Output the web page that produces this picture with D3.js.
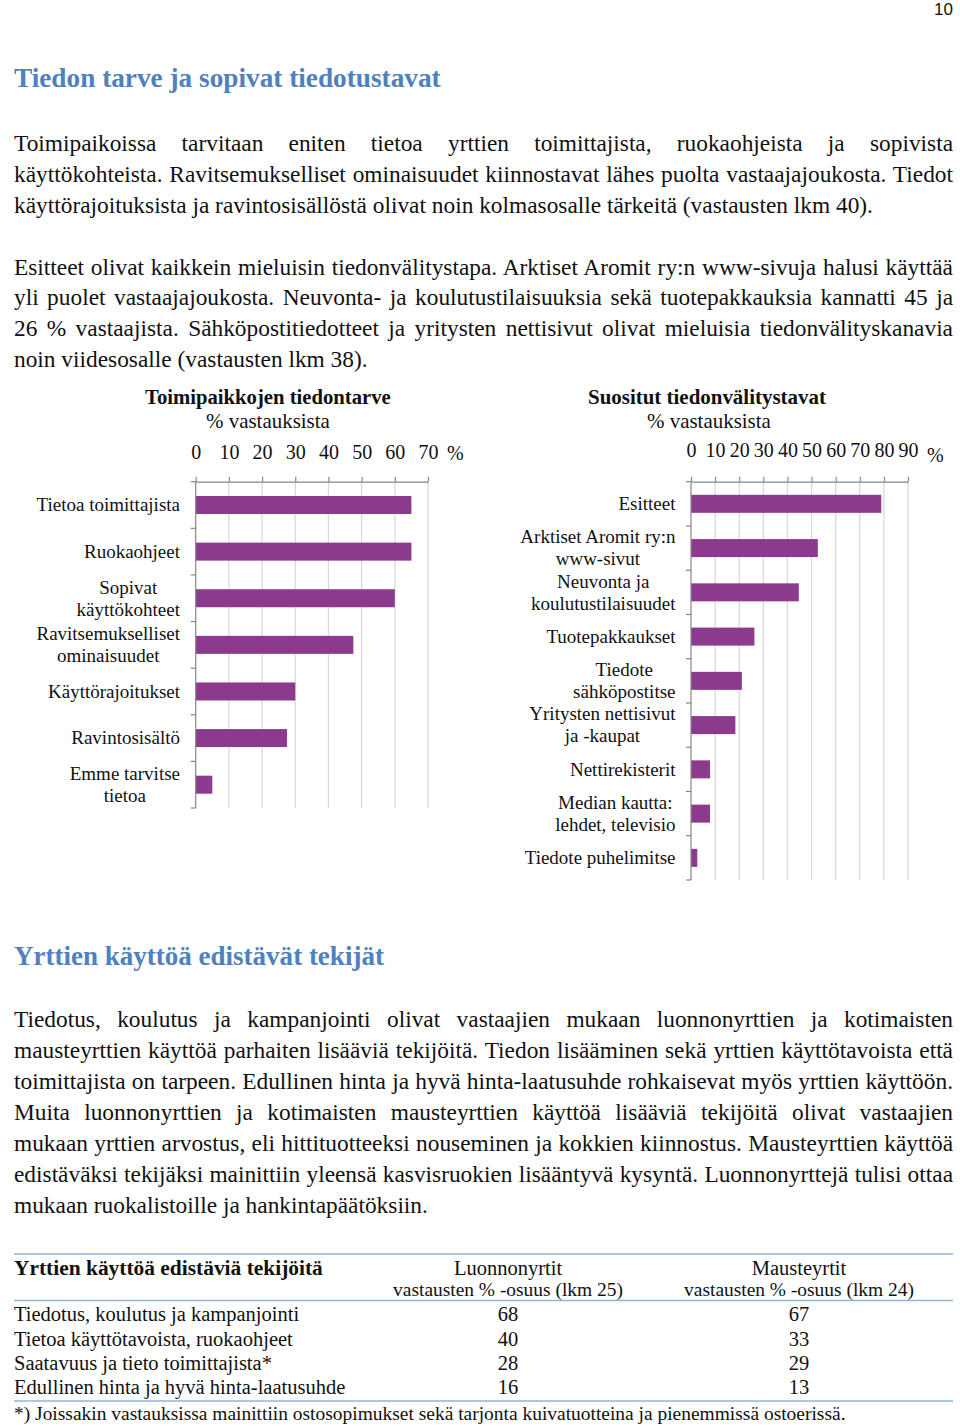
<!DOCTYPE html>
<html><head><meta charset="utf-8">
<script src="https://cdn.jsdelivr.net/npm/d3@7"></script>
<style>body{margin:0;background:#fff}svg{display:block}</style>
</head><body>
<script>
// ---------- data ----------
const needCategories = ["Tietoa toimittajista","Ruokaohjeet","Sopivat\nkäyttökohteet","Ravitsemukselliset\nominaisuudet","Käyttörajoitukset","Ravintosisältö","Emme tarvitse\ntietoa"];
const needValues = [65, 65, 60, 47.5, 30, 27.5, 5];
const needTicks = [0, 10, 20, 30, 40, 50, 60, 70];

const channelCategories = ["Esitteet","Arktiset Aromit ry:n\nwww-sivut","Neuvonta ja\nkoulutustilaisuudet","Tuotepakkaukset","Tiedote\nsähköpostitse","Yritysten nettisivut\nja -kaupat","Nettirekisterit","Median kautta:\nlehdet, televisio","Tiedote puhelimitse"];
const channelValues = [78.9, 52.6, 44.7, 26.3, 21.1, 18.4, 7.9, 7.9, 2.6];
const channelTicks = [0, 10, 20, 30, 40, 50, 60, 70, 80, 90];

const factorLabels = ["Tiedotus, koulutus ja kampanjointi","Tietoa käyttötavoista, ruokaohjeet","Saatavuus ja tieto toimittajista*","Edullinen hinta ja hyvä hinta-laatusuhde"];
const wildHerbValues = [68, 40, 28, 16];
const spiceHerbValues = [67, 33, 29, 13];
const tableColumns = ["Luonnonyrtit", "Mausteyrtit"];
const tableSubheads = ["vastausten % -osuus (lkm 25)", "vastausten % -osuus (lkm 24)"];

const para1 = [
 "Toimipaikoissa tarvitaan eniten tietoa yrttien toimittajista, ruokaohjeista ja sopivista",
 "käyttökohteista. Ravitsemukselliset ominaisuudet kiinnostavat lähes puolta vastaajajoukosta. Tiedot",
 "käyttörajoituksista ja ravintosisällöstä olivat noin kolmasosalle tärkeitä (vastausten lkm 40)."];
const para2 = [
 "Esitteet olivat kaikkein mieluisin tiedonvälitystapa. Arktiset Aromit ry:n www-sivuja halusi käyttää",
 "yli puolet vastaajajoukosta. Neuvonta- ja koulutustilaisuuksia sekä tuotepakkauksia kannatti 45 ja",
 "26 % vastaajista. Sähköpostitiedotteet ja yritysten nettisivut olivat mieluisia tiedonvälityskanavia",
 "noin viidesosalle (vastausten lkm 38)."];
const para3 = [
 "Tiedotus, koulutus ja kampanjointi olivat vastaajien mukaan luonnonyrttien ja kotimaisten",
 "mausteyrttien käyttöä parhaiten lisääviä tekijöitä. Tiedon lisääminen sekä yrttien käyttötavoista että",
 "toimittajista on tarpeen. Edullinen hinta ja hyvä hinta-laatusuhde rohkaisevat myös yrttien käyttöön.",
 "Muita luonnonyrttien ja kotimaisten mausteyrttien käyttöä lisääviä tekijöitä olivat vastaajien",
 "mukaan yrttien arvostus, eli hittituotteeksi nouseminen ja kokkien kiinnostus. Mausteyrttien käyttöä",
 "edistäväksi tekijäksi mainittiin yleensä kasvisruokien lisääntyvä kysyntä. Luonnonyrttejä tulisi ottaa",
 "mukaan ruokalistoille ja hankintapäätöksiin."];

// ---------- setup ----------
const serif = "'Liberation Serif','Times New Roman',serif";
const BAR = "#8b3a8e", GRID = "#d9d9d9", AXIS = "#868686", HEAD = "#4f81bd";
const svg = d3.select("body").append("svg").attr("width", 960).attr("height", 1427);
svg.append("rect").attr("width", 960).attr("height", 1427).attr("fill", "#fff");

function fitWidth(t, w) {
  const len = t.node().getComputedTextLength();
  const fs = parseFloat(t.attr("font-size"));
  t.attr("font-size", fs * w / len);
  return t;
}
function txt(x, y, s, fs, opts = {}) {
  return svg.append("text").attr("x", x).attr("y", y).attr("font-family", opts.family || serif)
    .attr("font-size", fs).attr("font-weight", opts.bold ? "bold" : null)
    .attr("fill", opts.fill || "#111").attr("text-anchor", opts.anchor || "start").text(s);
}

// page number
txt(953, 15, "10", 17, {family: "'Liberation Sans',Arial,sans-serif", anchor: "end"});

// headings
fitWidth(txt(14, 87, "Tiedon tarve ja sopivat tiedotustavat", 24, {bold: true, fill: HEAD}), 427);
fitWidth(txt(14, 965, "Yrttien käyttöä edistävät tekijät", 24, {bold: true, fill: HEAD}), 370);

// body font calibration
const cal = txt(14, -50, para1[2], 20);
const bodySize = 20 * 859 / cal.node().getComputedTextLength();
cal.remove();

function paragraph(lines, baselines) {
  lines.forEach((s, i) => {
    const t = txt(14, baselines[i], s, bodySize);
    if (i < lines.length - 1) {
      const len = t.node().getComputedTextLength();
      const n = (s.match(/ /g) || []).length;
      if (n) t.attr("word-spacing", (939 - len) / n);
    }
  });
}
paragraph(para1, [151, 182, 212.5]);
paragraph(para2, [274.5, 305, 336, 366.5]);
paragraph(para3, [1027, 1058, 1089, 1120, 1151, 1182, 1213]);

// ---------- bar charts ----------
function barChart(o) {
  const g = svg.append("g");
  const x = d3.scaleLinear().domain([0, d3.max(o.ticks)]).range([o.x0, o.x1]);
  const y = d3.scaleBand().domain(o.cats).range([o.yTop, o.yBot]);
  // gridlines
  g.selectAll(".grid").data(o.ticks.filter(t => t > 0)).join("line")
    .attr("x1", d => x(d)).attr("x2", d => x(d)).attr("y1", o.yTop).attr("y2", o.yBot)
    .attr("stroke", GRID).attr("stroke-width", 1.3);
  // bars
  g.selectAll(".bar").data(o.vals).join("rect")
    .attr("x", x(0)).attr("y", (d, i) => y(o.cats[i]) + (y.bandwidth() - o.barH) / 2)
    .attr("width", d => x(d) - x(0)).attr("height", o.barH).attr("fill", BAR);
  // top axis
  const ax = g.append("g").attr("transform", `translate(0,${o.yTop})`)
    .call(d3.axisTop(x).tickValues(o.ticks).tickSize(5).tickSizeOuter(0).tickPadding(o.pad));
  ax.select(".domain").attr("stroke", AXIS).attr("stroke-width", 1.2);
  ax.selectAll(".tick line").attr("stroke", AXIS).attr("stroke-width", 1.2);
  ax.selectAll(".tick text").attr("font-family", serif).attr("font-size", o.tickSize).attr("fill", "#111");
  txt(o.pctX, o.pctY, "%", o.tickSize);
  // left axis line + boundary ticks
  g.append("line").attr("x1", o.x0).attr("x2", o.x0).attr("y1", o.yTop).attr("y2", o.yBot)
    .attr("stroke", AXIS).attr("stroke-width", 1.2);
  const bounds = o.cats.map(c => y(c) + y.bandwidth()).concat([o.yTop]);
  g.selectAll(".yt").data(bounds).join("line")
    .attr("x1", o.x0 - 5).attr("x2", o.x0).attr("y1", d => d).attr("y2", d => d)
    .attr("stroke", AXIS).attr("stroke-width", 1.2);
  // category labels (multi-line, centred inside right-aligned block)
  o.cats.forEach(c => {
    const lines = c.split("\n");
    const cy = y(c) + y.bandwidth() / 2;
    const ts = lines.map((s, i) => txt(0, cy + (i - (lines.length - 1) / 2) * o.lh + o.labelSize * 0.33, s, o.labelSize, {anchor: "middle"}));
    const maxW = d3.max(ts, t => t.node().getComputedTextLength());
    ts.forEach(t => t.attr("x", o.labelRight - maxW / 2));
  });
  // titles
  fitWidth(txt(o.titleX, 404, o.title, 19, {bold: true}), o.titleW);
  fitWidth(txt(o.subX, 428, "% vastauksista", 19), 124);
}

barChart({cats: needCategories, vals: needValues, ticks: needTicks,
  x0: 195.7, x1: 428, yTop: 481.7, yBot: 808, barH: 18, pad: 18, tickSize: 20,
  pctX: 447, pctY: 459.5, labelRight: 180, labelSize: 19, lh: 22,
  title: "Toimipaikkojen tiedontarve", titleX: 145, titleW: 246, subX: 206});

barChart({cats: channelCategories, vals: channelValues, ticks: channelTicks,
  x0: 691, x1: 908, yTop: 481.7, yBot: 880, barH: 18, pad: 19.5, tickSize: 20,
  pctX: 927, pctY: 462, labelRight: 675.5, labelSize: 19, lh: 22,
  title: "Suositut tiedonvälitystavat", titleX: 588, titleW: 238, subX: 647});

// ---------- table ----------
const LINE = "#95b3d7";
[1254, 1300.5, 1401].forEach(yy => svg.append("line").attr("x1", 14).attr("x2", 953)
  .attr("y1", yy).attr("y2", yy).attr("stroke", LINE).attr("stroke-width", 1.3));
fitWidth(txt(14, 1275, "Yrttien käyttöä edistäviä tekijöitä", 20, {bold: true}), 309);
const colX = [508, 799];
tableColumns.forEach((c, i) => {
  txt(colX[i], 1275, c, 20.5, {anchor: "middle"});
  fitWidth(txt(colX[i], 1296, tableSubheads[i], 17, {anchor: "middle"}), 230);
});
const rowY = [1321, 1345.5, 1369.5, 1394];
factorLabels.forEach((f, i) => {
  txt(14, rowY[i], f, 20.5);
  txt(colX[0], rowY[i], wildHerbValues[i], 20.5, {anchor: "middle"});
  txt(colX[1], rowY[i], spiceHerbValues[i], 20.5, {anchor: "middle"});
});
fitWidth(txt(14, 1420, "*) Joissakin vastauksissa mainittiin ostosopimukset sekä tarjonta kuivatuotteina ja pienemmissä ostoerissä.", 18), 832);
</script>
</body></html>
